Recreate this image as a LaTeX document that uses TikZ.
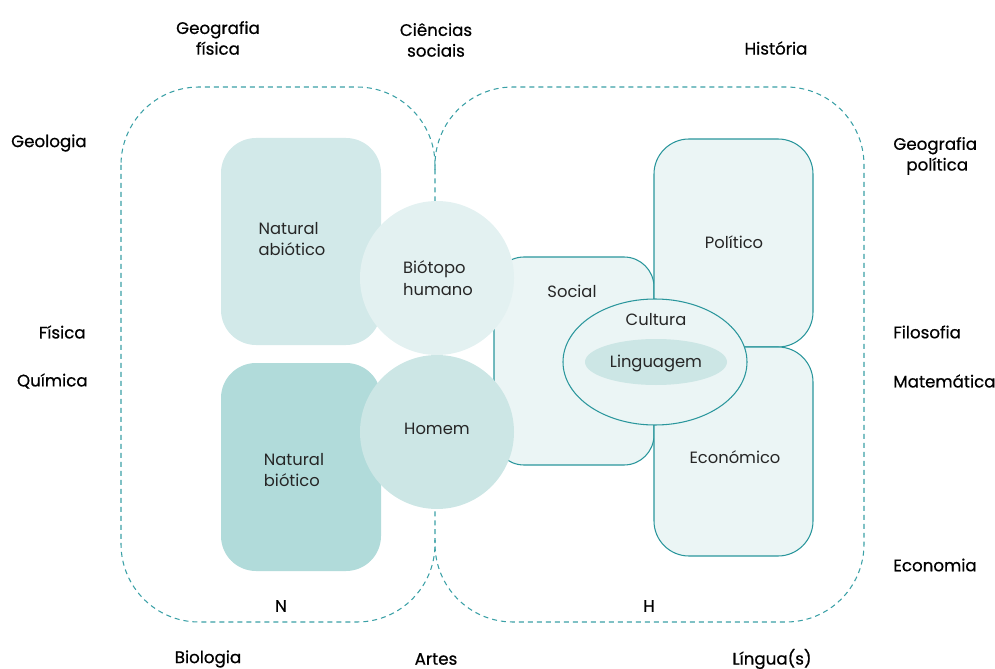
\documentclass[tikz,border=0pt]{standalone}
\usepackage{fontspec}
\setmainfont{Poppins}
\newfontfamily\outerfont[FakeBold=0.6]{Poppins}
\usetikzlibrary{positioning}

\definecolor{tealline}{HTML}{2A969C}
\definecolor{tealdash}{HTML}{3AA0A6}
\definecolor{abiofill}{HTML}{D2E9E9}
\definecolor{biofill}{HTML}{B1DBDA}
\definecolor{biotopofill}{HTML}{E3F1F1}
\definecolor{homemfill}{HTML}{CCE6E5}
\definecolor{humfill}{HTML}{EBF5F5}

\tikzset{
  region/.style={draw=tealdash, line width=0.6pt, dash pattern=on 1mm off 0.8mm, rounded corners=1.56cm},
  sphere/.style={draw=tealline, fill=humfill, line width=0.6pt},
  inlabel/.style={font=\fontsize{9.3}{12.4}\selectfont, align=left, text=black!85, inner sep=0pt},
  outlabel/.style={font=\outerfont\fontsize{9.5}{11.8}\selectfont, align=center, inner sep=0pt}
}

\begin{document}
\begin{tikzpicture}[x=0.02cm, y=-0.02cm]
  \useasboundingbox (0,0) rectangle (995,669);

  % Dashed regions N and H (H leaves the shared edge to N)
  \draw[region] (121,87) rectangle (435,622);
  \draw[region] (435,170) -- (435,87) -- (864,87) -- (864,622) -- (435,622) -- (435,540);

  % Natural boxes
  \fill[abiofill, rounded corners=0.7cm] (221,138) rectangle (381,345);
  \fill[biofill, rounded corners=0.7cm] (221,363) rectangle (381,571);

  % Human spheres
  \draw[sphere, rounded corners=0.6cm] (494,257) rectangle (654,465);
  \draw[sphere, rounded corners=0.7cm] (654,139) rectangle (813,347);
  \draw[sphere, rounded corners=0.7cm] (654,347) rectangle (813,556);

  % Circles
  \fill[biotopofill] (437,278) circle (77);
  \fill[homemfill] (437,432) circle (77);

  % Culture and language
  \draw[sphere] (655,362) ellipse (92 and 63);
  \fill[homemfill] (656,362) ellipse (71 and 23);

  % Inner labels
  \node[inlabel] (abiotico) at (292,239) {Natural\\abiótico};
  \node[inlabel] (biotico) at (294,470) {Natural\\biótico};
  \node[inlabel] (biotopo) at (438,278) {Biótopo\\humano};
  \node[inlabel] (homem) at (437,429) {Homem};
  \node[inlabel] (social) at (572,291) {Social};
  \node[inlabel] (politico) at (734,242) {Político};
  \node[inlabel] (cultura) at (656,320) {Cultura};
  \node[inlabel] (linguagem) at (656,363) {Linguagem};
  \node[inlabel] (economico) at (735,457) {Económico};

  % Region letters
  \node[outlabel] (n) at (281,606) {N};
  \node[outlabel] (h) at (649,606) {H};

  % Outer disciplines
  \node[outlabel] (geofis) at (218,38) {Geografia\\física};
  \node[outlabel] (ciencias) at (436,40) {Ciências\\sociais};
  \node[outlabel] (historia) at (776,48) {História};
  \node[outlabel, anchor=east] (geologia) at (87,143) {Geologia};
  \node[outlabel, anchor=east] (fisica) at (86,332) {Física};
  \node[outlabel, anchor=east] (quimica) at (88,381) {Química};
  \node[outlabel, anchor=west, align=left] (geopol) at (893,156) {Geografia\\\hphantom{G}política};
  \node[outlabel, anchor=west] (filosofia) at (893,332) {Filosofia};
  \node[outlabel, anchor=west] (matematica) at (893,381) {Matemática};
  \node[outlabel, anchor=west] (economia) at (893,565) {Economia};
  \node[outlabel] (biologia) at (208,659) {Biologia};
  \node[outlabel] (artes) at (436,659) {Artes};
  \node[outlabel] (lingua) at (772,659) {Língua(s)};
\end{tikzpicture}
\end{document}
